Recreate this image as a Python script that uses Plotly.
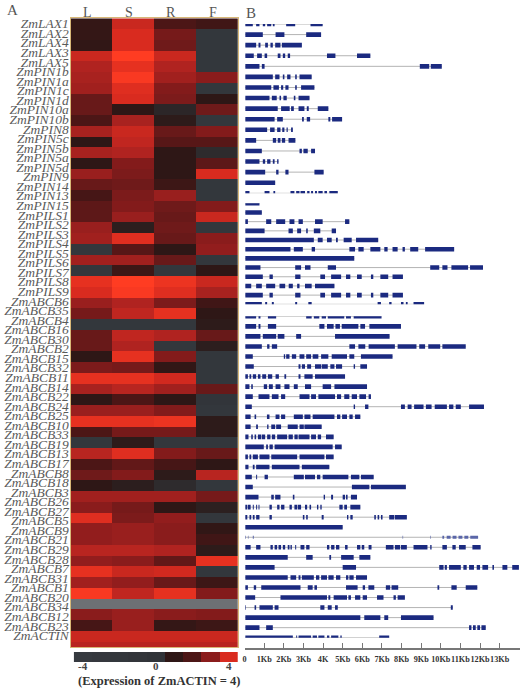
import plotly.graph_objects as go

# ---------------- DATA ----------------
genes = ["ZmLAX1", "ZmLAX2", "ZmLAX4", "ZmLAX3", "ZmLAX5", "ZmPIN1b", "ZmPIN1a", "ZmPIN1c", "ZmPIN1d",
         "ZmPIN10a", "ZmPIN10b", "ZmPIN8", "ZmPIN5c", "ZmPIN5b", "ZmPIN5a", "ZmPIN5d", "ZmPIN9", "ZmPIN14",
         "ZmPIN13", "ZmPIN15", "ZmPILS1", "ZmPILS2", "ZmPILS3", "ZmPILS4", "ZmPILS5", "ZmPILS6", "ZmPILS7",
         "ZmPILS8", "ZmPILS9", "ZmABCB6", "ZmABCB35", "ZmABCB4", "ZmABCB16", "ZmABCB30", "ZmABCB2",
         "ZmABCB15", "ZmABCB32", "ZmABCB11", "ZmABCB14", "ZmABCB22", "ZmABCB24", "ZmABCB25", "ZmABCB10",
         "ZmABCB33", "ZmABCB19", "ZmABCB13", "ZmABCB17", "ZmABCB8", "ZmABCB18", "ZmABCB3", "ZmABCB26",
         "ZmABCB27", "ZmABCB5", "ZmABCB9", "ZmABCB21", "ZmABCB29", "ZmABCB28", "ZmABCB7", "ZmABCB31",
         "ZmABCB1", "ZmABCB20", "ZmABCB34", "ZmABCB12", "ZmABCB23", "ZmACTIN"]

tissues = ["L", "S", "R", "F"]

heat_L = [1.2, 1.2, 1.1, 3.8, 3.5, 3.4, 3.3, 2.5, 2.5, 2.0,
          3.4, 1.0, 3.4, 1.0, 3.2, 2.5, 1.8, 2.3, 2.3, 3.2,
          3.3, -2, 3.3, -2, 4.2, 4.0, 3.2, 2.7, -2, 2.5,
          2.5, 1.0, 2.8, 4.2, 3.4, 1.0, 3.2, 4.2, 2.0, -2,
          3.6, 2.0, 2.6, 1.0, 3.3, 3.0, 4.1, 3.1, 3.1, 3.6,
          3.1, 4.2, 3.3, 4.5, None, 3.0, 1.8, 3.8, 3.6]
heat_S = [3.8, 4.0, 4.0, 4.6, 4.2, 4.5, 4.1, 4.0, 1.0, 3.4,
          3.8, 3.7, 3.5, 2.9, 2.8, 2.6, 2.8, 2.9, 3.2, 0.6,
          4.1, 2.2, 3.3, 1.5, 4.6, 4.5, 3.5, 3.7, -2, 3.7,
          3.5, 4.2, 2.7, 4.2, 3.6, 2.0, 3.2, 4.2, 2.7, 0.8,
          4.1, 2.4, 2.9, 0.6, 3.3, 2.7, 2.8, 3.2, 3.2, 3.6,
          3.0, 3.8, 3.1, 3.7, None, 3.2, 3.2, 3.8, 3.6]
heat_R = [2.0, 2.7, 2.6, 3.8, 3.5, 3.3, 2.9, 2.8, 0.3, 0.8,
          2.5, 2.2, 1.0, 1.0, 1.0, 1.5, 3.2, 2.6, 2.5, 2.6,
          2.5, 1.0, 2.5, -2, 4.3, 4.1, 2.8, 4.2, -2, 3.5,
          -2, 2.9, 1.1, 3.9, 3.3, 1.0, 2.9, 4.3, 2.7, -2,
          2.9, 1.8, 0.8, 0.2, 3.3, 1.0, 3.1, 3.0, 3.0, 3.5,
          2.4, 3.9, 2.5, 4.2, None, 3.0, 1.2, 3.8, 3.6]
heat_F = [1.6, -2, -2, -2, -2, 3.0, -2, 1.0, 2.6, -2,
          2.9, 2.2, 0.2, 2.3, 4.0, -2, -2, 2.9, 3.8, -2,
          3.0, 3.1, -2, 1.0, 3.8, 3.4, 1.6, 1.0, 0.8, 2.5,
          0.6, -2, -2, -2, 2.5, -1, -2, 0.8, 0.8, -2,
          2.5, 1.0, 3.6, -2, 2.7, 0.5, -2, 1.1, 1.6, 0.8,
          4.2, -2, 1.5, 2.9, None, 2.9, 1.5, 3.8, 3.6]

scale_values = [-4, -3, -2, -1, 0, 1, 2, 3, 4]
scale_ticks = [-4, 0, 4]

kb_ticks = list(range(15))
kb_labels = ["0", "1Kb", "2Kb", "3Kb", "4K", "5Kb", "6Kb", "7Kb", "8Kb", "9Kb", "10Kb",
             "11Kb", "12Kb", "13Kb", ""]

# exon (start, end) in kb for each gene-structure row
structures = [
    [(0.04, 0.42), (0.59, 0.76), (0.93, 1.05), (1.15, 1.36), (1.44, 1.53), (2.12, 2.58), (3.36, 3.98)],
    [(0.04, 0.93), (1.58, 2.03), (3.14, 3.90)],
    [(0.04, 0.59), (0.71, 0.81), (1.05, 1.19), (1.32, 1.44), (1.56, 1.83), (1.90, 2.92)],
    [(0.04, 0.47), (0.64, 0.88), (1.02, 1.15), (1.69, 1.83), (1.95, 2.07), (2.20, 2.32), (4.20, 4.63), (5.73, 6.41)],
    [(0.04, 0.76), (0.88, 1.02), (8.93, 9.41), (9.49, 10.05)],
    [(0.04, 1.44), (1.56, 1.78), (1.95, 2.03), (2.17, 2.34), (2.58, 2.66), (2.80, 3.42)],
    [(0.04, 1.36), (1.47, 1.75), (1.86, 1.97), (2.08, 2.24), (2.58, 2.66), (2.88, 3.56)],
    [(0.04, 1.27), (1.39, 1.64), (1.78, 1.86), (1.98, 2.15), (2.51, 2.59), (2.75, 3.31)],
    [(0.04, 1.69), (1.86, 2.30), (2.37, 2.51), (2.75, 3.05), (3.17, 3.27), (3.73, 4.27)],
    [(0.04, 1.53), (1.66, 1.95), (2.93, 3.02), (3.17, 3.34), (4.27, 4.37), (4.46, 4.97)],
    [(0.04, 1.15), (1.30, 1.53), (1.66, 1.83), (1.92, 2.03), (2.14, 2.20), (2.37, 2.46)],
    [(0.04, 0.59), (1.44, 1.61), (1.69, 1.83), (1.90, 2.07), (2.24, 2.59)],
    [(0.04, 0.88), (2.80, 2.92), (3.00, 3.22), (3.39, 3.59)],
    [(0.04, 0.76), (0.93, 1.05), (1.15, 1.32), (1.44, 1.53), (1.66, 1.73)],
    [(0.04, 1.05), (1.61, 1.73), (2.08, 2.24), (3.56, 4.03)],
    [(0.04, 1.56)],
    [(0.04, 0.25), (1.02, 1.27), (1.47, 1.56), (2.34, 2.54), (2.63, 2.80), (2.85, 3.08), (3.19, 3.31),
     (3.39, 3.49), (3.59, 3.69), (3.76, 3.98), (4.07, 4.20), (4.32, 4.75)],
    [(0.04, 0.76)],
    [(0.04, 0.88)],
    [(0.04, 0.17), (1.10, 1.36), (1.61, 2.07), (2.29, 2.54), (2.75, 2.97), (3.59, 3.98), (5.12, 5.34)],
    [(0.04, 1.02), (2.24, 2.46), (2.68, 2.88), (3.14, 3.22), (3.53, 3.86), (4.44, 4.66)],
    [(0.04, 3.53), (3.73, 3.98), (4.20, 4.44), (4.66, 4.75), (5.05, 5.46), (5.68, 6.81)],
    [(0.04, 2.34), (2.51, 2.97), (3.42, 3.59), (5.34, 5.63), (5.80, 6.07), (6.41, 6.92), (7.12, 7.29),
     (7.54, 7.80), (8.05, 8.17), (8.44, 8.85), (9.20, 10.68)],
    [(0.04, 5.59)],
    [(0.04, 0.81), (2.58, 2.88), (3.08, 3.36), (4.24, 4.66), (9.46, 9.92), (10.08, 10.34), (10.54, 11.39), (11.49, 12.15)],
    [(0.04, 0.93), (1.27, 1.44), (2.58, 2.85), (3.86, 4.10), (4.41, 4.92), (5.17, 5.39), (5.73, 5.97),
     (6.44, 6.56), (6.92, 7.32), (7.54, 8.07)],
    [(0.04, 0.34), (0.59, 0.88), (1.10, 1.56), (1.78, 2.07), (2.25, 2.46), (2.68, 2.80), (3.08, 3.42), (3.59, 4.58)],
    [(0.04, 0.93), (1.27, 1.44), (2.58, 2.85), (3.86, 4.10), (4.41, 4.92), (5.17, 5.39), (5.73, 5.97),
     (6.44, 6.56), (6.92, 7.32), (7.54, 8.07)],
    [(0.04, 0.88), (1.05, 1.15), (1.39, 1.49), (2.58, 2.68), (3.25, 3.42), (6.78, 6.95), (7.37, 7.49),
     (7.97, 8.10), (8.22, 8.31), (8.61, 9.15)],
    [(0.04, 0.59), (0.71, 0.81), (1.19, 1.61), (3.14, 3.42), (3.53, 3.81), (3.93, 4.15), (4.24, 5.08),
     (5.17, 5.42), (5.56, 6.98)],
    [(0.04, 0.59), (0.71, 0.81), (1.19, 1.61), (3.81, 4.07), (4.20, 4.54), (4.63, 4.86), (4.95, 5.80),
     (5.90, 6.14), (6.36, 7.97)],
    [(0.04, 0.81), (0.93, 1.61), (1.69, 2.03), (2.63, 2.88), (4.61, 7.39)],
    [(0.04, 0.88), (1.15, 1.27), (1.39, 1.66), (5.34, 5.63), (5.80, 6.15), (6.32, 7.66), (7.80, 8.76),
     (8.90, 9.20), (9.36, 9.97), (10.08, 11.27)],
    [(0.04, 0.42), (2.00, 2.07), (2.12, 2.29), (2.41, 2.63), (2.80, 3.05), (3.14, 3.39), (3.47, 3.76),
     (3.90, 4.27), (4.44, 5.22), (5.34, 5.59), (5.93, 7.54)],
    [(0.04, 0.47), (2.75, 2.85), (2.92, 3.08), (3.19, 3.39), (3.59, 3.90), (3.93, 4.24), (4.37, 4.58),
     (4.66, 4.97), (5.56, 5.63), (5.90, 6.24)],
    [(0.04, 0.17), (0.25, 0.34), (0.42, 0.59), (0.68, 0.81), (0.90, 1.10), (1.19, 1.41), (1.58, 1.75),
     (2.03, 2.12), (2.75, 2.85), (3.05, 3.47), (3.59, 5.12)],
    [(0.04, 0.25), (0.34, 0.42), (0.98, 1.15), (1.24, 1.44), (1.58, 1.83), (2.03, 2.29), (2.51, 2.71),
     (3.08, 3.39), (3.98, 4.41), (4.58, 6.24)],
    [(0.04, 0.42), (0.71, 1.27), (1.39, 1.73), (1.86, 2.07), (2.80, 3.31), (3.39, 3.64), (3.76, 4.61),
     (4.71, 4.92), (5.08, 5.34), (5.46, 5.73), (5.85, 6.19), (6.32, 6.44)],
    [(0.04, 0.37), (5.56, 5.63), (6.14, 6.31), (7.97, 8.17), (8.31, 8.51), (8.64, 9.12), (9.24, 9.53),
     (9.69, 10.31), (10.42, 10.64), (10.76, 11.02), (11.44, 12.20)],
    [(0.04, 0.31), (0.51, 0.59), (1.14, 1.27), (1.58, 1.78), (1.86, 2.07), (2.51, 2.97), (3.05, 3.36),
     (3.47, 4.58), (4.71, 4.88), (4.97, 5.22), (5.34, 5.51), (5.63, 5.90)],
    [(0.04, 0.31), (0.59, 0.68), (1.15, 1.22), (1.36, 1.56), (1.61, 1.86), (2.20, 2.71), (2.80, 3.02), (3.05, 3.93)],
    [(0.04, 0.20), (0.34, 0.42), (0.51, 0.59), (0.68, 0.85), (0.88, 1.05), (1.15, 1.32), (1.39, 1.56),
     (1.66, 2.17), (2.24, 2.46), (2.54, 2.71), (2.75, 3.31), (3.39, 3.64), (3.73, 3.90), (4.15, 4.54)],
    [(0.04, 0.98), (1.10, 1.19), (1.27, 1.44), (1.53, 4.49), (4.61, 4.95)],
    [(0.04, 0.17), (0.25, 0.34), (0.42, 0.68), (0.76, 1.27), (1.36, 2.68), (2.80, 4.07), (4.15, 4.54)],
    [(0.04, 0.20), (0.42, 0.51), (0.59, 1.27), (1.39, 2.80), (2.92, 4.32)],
    [(0.04, 0.37), (0.59, 0.64), (1.02, 1.19), (2.51, 3.02), (3.08, 3.59), (3.69, 3.86), (3.98, 5.29),
     (5.42, 5.85), (5.93, 6.58)],
    [(0.04, 0.42), (5.47, 6.36), (6.44, 8.22)],
    [(0.04, 0.71), (1.36, 1.49), (1.56, 1.83), (2.46, 2.54), (4.03, 4.10), (4.41, 4.51), (5.00, 5.12),
     (5.17, 5.25), (5.42, 5.73)],
    [(0.04, 0.14), (0.17, 0.31), (0.42, 0.47), (0.59, 0.64), (0.71, 0.76), (1.27, 1.39), (1.66, 1.78),
     (1.86, 2.03), (2.29, 2.41), (2.54, 2.68), (2.71, 2.88), (3.08, 3.19), (3.31, 3.39), (3.69, 3.76),
     (3.86, 3.93), (4.83, 5.00), (5.08, 5.22), (5.39, 5.90)],
    [(0.04, 0.14), (0.25, 0.34), (0.42, 0.51), (0.59, 0.76), (1.27, 1.39), (2.97, 3.05), (3.14, 3.22),
     (3.93, 4.03), (5.22, 5.29), (5.39, 5.51), (6.61, 6.69), (6.78, 6.86), (6.95, 7.03), (7.37, 7.63), (7.66, 8.27)],
    [(0.04, 5.00)],
    [(0.04, 0.07), (0.17, 0.20), (0.42, 0.47), (8.05, 8.08), (9.46, 9.49), (10.08, 10.17), (10.30, 10.50),
     (10.60, 10.80), (10.90, 11.10), (11.20, 11.40), (11.50, 11.90)],
    [(0.04, 0.31), (0.59, 0.81), (1.32, 1.44), (1.53, 1.66), (1.73, 1.86), (1.95, 2.07), (2.20, 2.29),
     (2.34, 2.41), (2.58, 2.63), (2.85, 3.05), (3.14, 3.31), (4.20, 4.32), (4.41, 4.58), (4.66, 4.83),
     (5.12, 5.25), (5.73, 5.90), (5.97, 6.10), (6.32, 6.47), (7.20, 7.59), (7.66, 7.93), (7.97, 8.27),
     (8.61, 9.32), (9.46, 9.53), (10.08, 10.31), (10.59, 10.76), (10.93, 11.27), (11.61, 12.03)],
    [(0.04, 2.20), (3.14, 3.47), (4.32, 4.41), (4.92, 5.56), (5.85, 6.41)],
    [(0.04, 1.53), (5.00, 5.68), (9.92, 10.14), (10.20, 10.31), (10.42, 11.02), (11.15, 11.32), (11.44, 11.69),
     (11.83, 12.00), (12.12, 12.41), (12.63, 12.71), (13.14, 13.39), (13.64, 13.98)],
    [(0.04, 2.20), (2.34, 2.63), (2.75, 2.85), (2.92, 3.53), (3.64, 3.81), (3.90, 4.20), (4.27, 4.54),
     (4.66, 4.88), (5.17, 5.29), (5.34, 5.56), (5.68, 6.24)],
    [(0.04, 0.17), (0.47, 0.59), (0.85, 2.85), (3.22, 3.47), (3.56, 3.69), (5.17, 5.76), (6.02, 6.14),
     (6.31, 6.61), (7.20, 7.42), (7.49, 7.83), (9.83, 9.92), (10.54, 10.81), (11.27, 11.86)],
    [(0.04, 0.54), (1.83, 4.20), (4.27, 4.37), (4.54, 5.22), (5.29, 5.42), (5.63, 5.90), (6.02, 6.24),
     (6.75, 7.08), (7.59, 7.71), (7.80, 8.17)],
    [(0.04, 0.07), (0.51, 0.59), (0.76, 1.44), (1.53, 1.73), (3.86, 4.07), (4.24, 4.44), (4.61, 4.75), (10.51, 10.61)],
    [(0.04, 5.90), (6.10, 6.92), (7.12, 7.32), (7.97, 9.63)],
    [(0.04, 0.76), (1.10, 1.44), (11.44, 11.56), (11.64, 11.78), (11.86, 12.00), (12.07, 12.29)],
    [(0.04, 2.46), (2.63, 2.68), (2.75, 3.39), (3.47, 3.69), (3.76, 4.07), (4.20, 4.32), (4.41, 4.78),
     (4.88, 4.95), (6.86, 7.37)],
]
thin_rows = [51]  # row drawn with outline-like thin exons

# ---------------- FIGURE ----------------
W, H = 520, 688


def fx(p):
    return p / W


def fy(p):
    return 1 - p / H


zmin, zmax = -4, 4.6
stops = [(-4, '#363a40'), (0, '#303338'), (0.4, '#2b2222'), (1, '#2e1716'), (2, '#4c1616'),
         (2.5, '#681919'), (3, '#8a1c1c'), (3.5, '#b02320'), (4, '#d92b1f'), (4.6, '#ff3c22')]
colorscale = [[(v - zmin) / (zmax - zmin), c] for v, c in stops]

n_rows = len(heat_L)
z = [[heat_L[i], heat_S[i], heat_R[i], heat_F[i]] for i in range(n_rows)]
z_missing = [[0] * 4 if heat_L[i] is None else [None] * 4 for i in range(n_rows)]

fig = go.Figure()
fig.add_trace(go.Heatmap(z=z, x=list(range(4)), y=list(range(n_rows)), colorscale=colorscale,
                         zmin=zmin, zmax=zmax, showscale=False, xaxis='x', yaxis='y', hoverinfo='skip'))
fig.add_trace(go.Heatmap(z=z_missing, x=list(range(4)), y=list(range(n_rows)),
                         colorscale=[[0, '#6d7074'], [1, '#6d7074']], showscale=False,
                         xaxis='x', yaxis='y', hoverinfo='skip'))

# colour key
fig.add_trace(go.Heatmap(z=[scale_values], x=scale_values, y=[0], colorscale=colorscale,
                         zmin=zmin, zmax=zmax, showscale=False, xaxis='x3', yaxis='y3', hoverinfo='skip'))

# gene labels
fig.add_trace(go.Scatter(x=[1] * len(genes), y=list(range(len(genes))), text=genes, mode='text',
                         textposition='middle left', cliponaxis=False,
                         textfont=dict(family='Liberation Serif', size=13.5, color='#5a5a5a', style='italic'),
                         xaxis='x4', yaxis='y4', hoverinfo='skip', showlegend=False))

# gene structures: three vertical blocks of rows (layout groups), each on its own y axis
groups = [(0, 16, 24.0, 193.3, 'y2'), (17, 28, 203.3, 304.3, 'y5'), (29, len(structures) - 1, 316.3, 637.7, 'y6')]
layout_extra = {}
for g0, g1, top_px, bot_px, yname in groups:
    ix, iy, ex, ey, tx, ty = [], [], [], [], [], []
    for r in range(g0, g1 + 1):
        ex_list = structures[r]
        ix += [ex_list[0][0], ex_list[-1][1], None]
        iy += [r, r, None]
        for s, e in ex_list:
            if r in thin_rows:
                tx += [s, e, None]
                ty += [r, r, None]
            else:
                ex += [s, e, None]
                ey += [r, r, None]
    fig.add_trace(go.Scatter(x=ix, y=iy, mode='lines', line=dict(color='#b4b4b4', width=1),
                             xaxis='x2', yaxis=yname, hoverinfo='skip', showlegend=False, cliponaxis=False))
    fig.add_trace(go.Scatter(x=ex, y=ey, mode='lines', line=dict(color='#1b2a80', width=4.6),
                             xaxis='x2', yaxis=yname, hoverinfo='skip', showlegend=False, cliponaxis=False))
    if tx:
        fig.add_trace(go.Scatter(x=tx, y=ty, mode='lines', line=dict(color='#5a66a8', width=3),
                                 xaxis='x2', yaxis=yname, hoverinfo='skip', showlegend=False, cliponaxis=False))
    key = 'yaxis' + yname[1:]
    layout_extra[key] = dict(domain=[fy(bot_px), fy(top_px)], range=[g1, g0], visible=False, anchor='x2')

serif = 'Liberation Serif'
annotations = [
    dict(text='A', x=fx(11), y=fy(10), xref='paper', yref='paper', showarrow=False,
         xanchor='center', yanchor='middle', font=dict(family=serif, size=15, color='#555555')),
    dict(text='B', x=fx(250), y=fy(13), xref='paper', yref='paper', showarrow=False,
         xanchor='center', yanchor='middle', font=dict(family=serif, size=15, color='#555555')),
    dict(text='(Expression of ZmACTIN = 4)', x=fx(158), y=fy(681), xref='paper', yref='paper',
         showarrow=False, xanchor='center', yanchor='middle',
         font=dict(family=serif, size=12.5, color='#333333', weight='bold')),
]
for i, t in enumerate(tissues):
    annotations.append(dict(text=t, x=i - 0.1, y=fy(12), xref='x', yref='paper', showarrow=False,
                            xanchor='center', yanchor='middle',
                            font=dict(family=serif, size=14, color='#555555')))
for v in scale_ticks:
    annotations.append(dict(text=str(v), x=v, y=fy(665.5), xref='x3', yref='paper', showarrow=False,
                            xanchor='center', yanchor='middle',
                            font=dict(family=serif, size=11, color='#444444', weight='bold')))

fig.update_layout(
    width=W, height=H, margin=dict(l=0, r=0, t=0, b=0),
    paper_bgcolor='white', plot_bgcolor='rgba(0,0,0,0)', showlegend=False,
    xaxis=dict(domain=[fx(69), fx(237)], range=[-0.5, 3.5], showticklabels=False, ticks='',
               showline=True, mirror=True, linecolor='#d8b878', linewidth=1, showgrid=False,
               zeroline=False, anchor='y'),
    yaxis=dict(domain=[fy(647), fy(18.3)], range=[58.0, -0.5], showticklabels=False, ticks='',
               showline=True, mirror=True, linecolor='#d8b878', linewidth=1, showgrid=False,
               zeroline=False, anchor='x'),
    xaxis2=dict(domain=[fx(243.5), 1], range=[0, (W - 243.5) / 19.7], anchor='free', position=fy(649),
                tickvals=kb_ticks, ticktext=kb_labels, ticks='inside', ticklen=5, tickcolor='#777777',
                showline=True, linecolor='#777777', linewidth=1.5, showgrid=False, zeroline=False,
                tickangle=0, ticklabelstandoff=2,
                tickfont=dict(family=serif, size=8.2, color='#333333', weight='bold')),
    xaxis3=dict(domain=[fx(72), fx(237)], range=[-4.5, 4.5], anchor='y3', visible=False),
    yaxis3=dict(domain=[fy(662), fy(652)], range=[-0.5, 0.5], visible=False, anchor='x3'),
    xaxis4=dict(domain=[0, fx(67)], range=[0, 1], visible=False, anchor='y4'),
    yaxis4=dict(domain=[fy(636.7), fy(25)], range=[len(genes) - 1, 0], visible=False, anchor='x4'),
    annotations=annotations,
    **layout_extra,
)

fig.write_html("out.html")
